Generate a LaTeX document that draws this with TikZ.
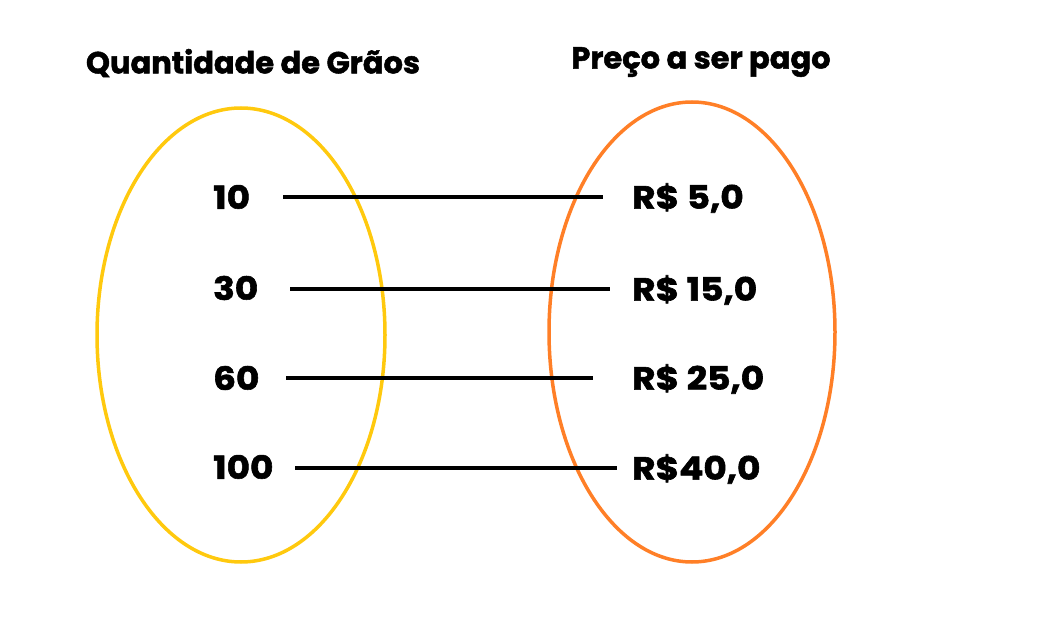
\documentclass[tikz,border=0pt]{standalone}
\usepackage{fontspec}
\setmainfont{Poppins}[BoldFeatures={FakeBold=1.6}]
\newfontfamily\numfont{Poppins}[BoldFeatures={FakeBold=1.8}, FakeStretch=1.12]
\definecolor{grainyellow}{HTML}{FFC90E}
\definecolor{priceorange}{HTML}{FF7F27}
\begin{document}
\begin{tikzpicture}[x=1pt, y=-1pt,
    head/.style={font=\bfseries\fontsize{30.5}{30}\selectfont, inner sep=0pt},
    num/.style={font=\numfont\bfseries\fontsize{32}{32}\selectfont, anchor=west, inner sep=0pt},
    link/.style={line width=4pt}]
  \useasboundingbox (0,0) rectangle (1058,628);
  % headings
  \node[head] (qtd) at (253,63) {Quantidade de Grãos};
  \node[head] (preco) at (701,62) {Preço a ser pago};
  % the two sets
  \draw[grainyellow, line width=3.5pt] (241,335) ellipse [x radius=144, y radius=227];
  \draw[priceorange, line width=3.5pt] (692,332) ellipse [x radius=143, y radius=230];
  % quantities
  \node[num] (q10) at (213,197) {10};
  \node[num] (q30) at (213,288) {30};
  \node[num] (q60) at (213,378) {60};
  \node[num] (q100) at (213,467) {100};
  % prices
  \node[num] (p5) at (632,198) {R\$ 5,0};
  \node[num] (p15) at (632,290) {R\$ 15,0};
  \node[num] (p25) at (632,379) {R\$ 25,0};
  \node[num] (p40) at (632,469) {R\$40,0};
  % line ends
  \coordinate (a10) at (283,197);  \coordinate (b10) at (603,197);
  \coordinate (a30) at (290,289);  \coordinate (b30) at (610,289);
  \coordinate (a60) at (286,378);  \coordinate (b60) at (593,378);
  \coordinate (a100) at (295,468); \coordinate (b100) at (617,468);
  \draw[link] (a10) -- (b10);
  \draw[link] (a30) -- (b30);
  \draw[link] (a60) -- (b60);
  \draw[link] (a100) -- (b100);
\end{tikzpicture}
\end{document}
